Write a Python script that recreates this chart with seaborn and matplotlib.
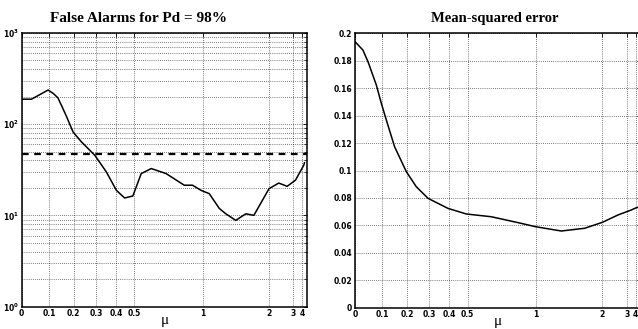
import numpy as np
import pandas as pd
import seaborn as sns
import matplotlib
matplotlib.use('Agg')
import matplotlib.pyplot as plt
from matplotlib.ticker import FixedLocator, FixedFormatter, LogLocator, MultipleLocator, FormatStrFormatter

# false alarms for Pd = 98%
fa_mu = [0, 0.035, 0.097, 0.117, 0.135, 0.15, 0.17, 0.198, 0.234, 0.295, 0.351, 0.402,
         0.446, 0.492, 0.541, 0.603, 0.703, 0.84, 0.909, 0.986, 1.066, 1.174, 1.25,
         1.38, 1.53, 1.67, 2.0, 2.29, 2.63, 3.15, 4.27, 4.5]
fa_val = [188, 188, 237, 217, 195, 160, 122, 82, 64, 45.6, 29.9, 18.8,
          15.5, 16.3, 28.7, 32.6, 28.7, 21.4, 21.4, 18.8, 17.3, 11.9, 10.4,
          8.8, 10.4, 10.0, 19.6, 22.6, 20.8, 24.3, 35.4, 38]
fa_level = 47

# mean-squared error
mse_mu = [0, 0.028, 0.0465, 0.0775, 0.0965, 0.116, 0.149, 0.198, 0.241, 0.295, 0.393,
          0.493, 0.647, 0.844, 1.0, 1.278, 1.625, 2.0, 2.52, 3.38, 3.82, 5.0]
mse_val = [0.1939, 0.1878, 0.1793, 0.1623, 0.149, 0.1368, 0.1173, 0.0991, 0.0882, 0.0797,
           0.0724, 0.0683, 0.0663, 0.062, 0.059, 0.0559, 0.0579, 0.0622, 0.0676, 0.0712,
           0.0724, 0.0735]

mu_ticks = [0, 0.1, 0.2, 0.3, 0.4, 0.5, 1, 2, 3, 4]
mu_labels = ['0', '0.1', '0.2', '0.3', '0.4', '0.5', '1', '2', '3', '4']

sns.set_style('white')
plt.rcParams['font.family'] = ['DejaVu Sans']
plt.rcParams.update({'text.color': 'black', 'axes.labelcolor': 'black',
                     'xtick.color': 'black', 'ytick.color': 'black'})


def fwd(x):
    return 1 - np.exp(-np.asarray(x, dtype=float))


def inv(y):
    return -np.log(1 - np.clip(np.asarray(y, dtype=float), None, 1 - 1e-12))


fig = plt.figure(figsize=(6.38, 3.29), dpi=100)
ax1 = fig.add_axes([21.7 / 638, 22.5 / 329, 285.6 / 638, 273.5 / 329])
ax2 = fig.add_axes([355 / 638, 21.3 / 329, 285.6 / 638, 274.4 / 329])

df1 = pd.DataFrame({'mu': fa_mu, 'fa': fa_val})
df2 = pd.DataFrame({'mu': mse_mu, 'mse': mse_val})

sns.lineplot(data=df1, x='mu', y='fa', ax=ax1, color='black', linewidth=1.1)
ax1.axhline(fa_level, color='black', linewidth=1.6, linestyle=(0, (3, 2.5)))
sns.lineplot(data=df2, x='mu', y='mse', ax=ax2, color='black', linewidth=1.1)

for ax in (ax1, ax2):
    ax.set_xscale('function', functions=(fwd, inv))
    ax.set_xlim(0, 6.5)
    ax.xaxis.set_major_locator(FixedLocator(mu_ticks))
    ax.xaxis.set_major_formatter(FixedFormatter(mu_labels))
    ax.xaxis.set_minor_locator(FixedLocator([]))
    ax.set_xlabel('μ', fontsize=11, family='Liberation Serif', labelpad=-3)
    ax.set_ylabel('')
    ax.tick_params(direction='in', top=True, right=True, length=3, width=0.6,
                   labelsize=5.5, pad=2)
    ax.tick_params(which='minor', direction='in', top=True, right=True, length=2, width=0.5)
    for sp in ax.spines.values():
        sp.set_linewidth(1.1)
        sp.set_color('black')
    ax.grid(True, which='major', color='black', linestyle=(0, (1, 2)), linewidth=0.5)

ax1.set_yscale('log')
ax1.set_ylim(1, 1000)
ax1.yaxis.set_major_locator(LogLocator(base=10))
ax1.yaxis.set_minor_locator(LogLocator(base=10, subs=np.arange(2, 10)))
ax1.grid(True, which='minor', axis='y', color='black', linestyle=(0, (1, 2)), linewidth=0.5)
ax1.set_title('False Alarms for Pd = 98%', fontsize=11, fontweight='bold',
              family='Liberation Serif', pad=8, x=0.41)

ax2.set_ylim(0, 0.2)
ax2.yaxis.set_major_locator(MultipleLocator(0.02))
ax2.yaxis.set_major_formatter(FormatStrFormatter('%g'))
ax2.set_title('Mean-squared error', fontsize=10.5, fontweight='bold',
              family='Liberation Serif', pad=8, x=0.49)

for ax in (ax1, ax2):
    for lab in ax.get_xticklabels() + ax.get_yticklabels():
        lab.set_fontweight('bold')

fig.savefig('out.png', dpi=100)
plt.close(fig)
